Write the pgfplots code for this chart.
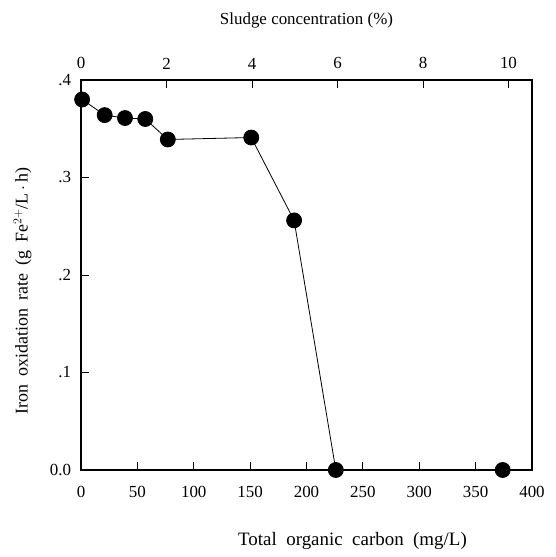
\documentclass[border=0pt]{standalone}
\usepackage{fontspec}
\setmainfont{Liberation Serif}
\usepackage{pgfplots}
\pgfplotsset{compat=1.18}
\begin{document}
\fontsize{17}{20}\selectfont
\begin{tikzpicture}
\begin{axis}[
  name=main,
  scale only axis, width=451bp, height=390bp,
  xmin=0, xmax=400, ymin=0, ymax=0.4,
  xtick={50,100,...,350}, extra x ticks={0,400}, extra x tick style={major tick length=0pt},
  xticklabels={50,100,150,200,250,300,350},
  extra x tick labels={0,400},
  ytick={0.1,0.2,0.3}, yticklabels={.1,.2,.3},
  extra y ticks={0,0.4}, extra y tick labels={0.0,.4}, extra y tick style={major tick length=0pt},
  xtick pos=bottom, ytick pos=left,
  tick align=inside, major tick length=8bp,
  tick style={line width=0.8bp, black},
  axis line style={line width=1.6bp},
  /pgf/number format/assume math mode=true,
  ticklabel style={font=\fontsize{17}{20}\selectfont},
  xticklabel style={yshift=-10bp},
  yticklabel style={xshift=-4bp},
  xlabel={{\spaceskip=0.5em Total organic carbon (mg/L)}},
  ylabel={{\spaceskip=0.45em Iron oxidation rate (g Fe$^{2+}$/L$\,\cdot\,$h)}},
  xlabel style={font=\fontsize{19}{22}\selectfont, yshift=-24bp, xshift=46bp},
  ylabel style={font=\fontsize{18}{21}\selectfont, yshift=7bp, xshift=-16bp},
  clip=false,
]
\addplot[black, line width=0.8bp, mark=*, mark size=7.5bp, mark options={fill=black}] coordinates {
(1,0.380) (21,0.364) (39,0.361) (57,0.360) (77,0.339) (151,0.341) (189,0.256) (226,0.0) (374,0.0)
};
\end{axis}
\begin{axis}[
  scale only axis, width=451bp, height=390bp,
  xmin=0, xmax=10.55, ymin=0, ymax=0.4,
  axis x line*=top, axis y line=none,
  xtick={2,4,...,10}, extra x ticks={0}, extra x tick style={major tick length=0pt},
  tick align=inside, major tick length=8bp,
  tick style={line width=0.8bp, black},
  axis line style={line width=1.6bp},
  /pgf/number format/assume math mode=true,
  ticklabel style={font=\fontsize{17}{20}\selectfont},
  xticklabel style={yshift=5bp},
  xlabel={Sludge concentration (\%)},
  xlabel style={font=\fontsize{17}{20}\selectfont, yshift=18bp},
]
\end{axis}
\path (main.south west) ++(-81bp,-87bp) rectangle ([shift={(24bp,80bp)}]main.north east);
\end{tikzpicture}
\end{document}
